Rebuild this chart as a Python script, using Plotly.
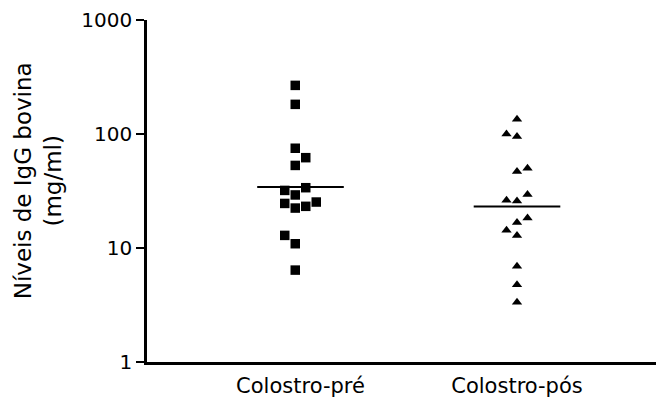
import plotly.graph_objects as go

# ---- data ----
categories = ["Colostro-pré", "Colostro-pós"]

pre_values = [267, 182, 75, 62, 53, 33.8, 32, 29.2, 25.3, 24.6, 23.2, 22.4, 12.9, 10.9, 6.4]
pre_columns = [0.5, 0.5, 0.5, 1.5, 0.5, 1.5, -0.5, 0.5, 2.5, -0.5, 1.5, 0.5, -0.5, 0.5, 0.5]

post_values = [135, 99.8, 95, 50, 47, 29.5, 26.2, 25.8, 18.3, 16.7, 14.3, 12.9, 6.9, 4.75, 3.35]
post_columns = [0, -1, 0, 1, 0, 1, -1, 0, 1, 0, -1, 0, 0, 0, 0]

center_lines = [34.3, 23.1]

y_tickvals = [1, 10, 100, 1000]
y_ticktext = ["1", "10", "100", "1000"]

# ---- layout helpers ----
cat_pos = [1, 2]
col_step = 0.0485
half_width = 0.2
FONT = "DejaVu Sans, Liberation Sans, Arial, sans-serif"

fig = go.Figure()

fig.add_trace(go.Scatter(
    x=[cat_pos[0] + (c - 1.0) * col_step for c in pre_columns],
    y=pre_values, mode="markers",
    marker=dict(symbol="square", size=9.5, color="black"),
    showlegend=False, cliponaxis=False))

fig.add_trace(go.Scatter(
    x=[cat_pos[1] + c * col_step for c in post_columns],
    y=post_values, mode="markers",
    marker=dict(symbol="triangle-up", size=9, color="black"),
    showlegend=False, cliponaxis=False))

for pos, val in zip(cat_pos, center_lines):
    fig.add_trace(go.Scatter(
        x=[pos - half_width, pos + half_width], y=[val, val],
        mode="lines", line=dict(color="black", width=2),
        showlegend=False, hoverinfo="skip"))

fig.update_layout(
    width=656, height=398,
    margin=dict(l=147, r=0, t=20, b=36, autoexpand=False),
    paper_bgcolor="white", plot_bgcolor="white",
    font=dict(family=FONT, color="black"),
    xaxis=dict(
        range=[0.291, 2.642],
        tickvals=cat_pos, ticktext=categories,
        tickfont=dict(size=21, family=FONT),
        showgrid=False, zeroline=False,
        showline=True, linecolor="black", linewidth=2.5,
        ticks="", ticklabelstandoff=3),
    yaxis=dict(
        type="log", range=[0, 3],
        tickvals=y_tickvals, ticktext=y_ticktext,
        tickfont=dict(size=20, family=FONT),
        showgrid=False, zeroline=False,
        showline=True, linecolor="black", linewidth=2.5,
        ticks="outside", ticklen=8, tickwidth=2, tickcolor="black"),
    annotations=[dict(
        text="Níveis de IgG bovina<br>(mg/ml)",
        xref="paper", yref="paper", x=-0.215, y=0.53,
        xanchor="center", yanchor="middle",
        textangle=-90, showarrow=False,
        font=dict(size=23, family=FONT, color="black"))],
)

fig.write_html("out.html", config={"displayModeBar": False},
               post_script="document.body.style.margin='0';")
